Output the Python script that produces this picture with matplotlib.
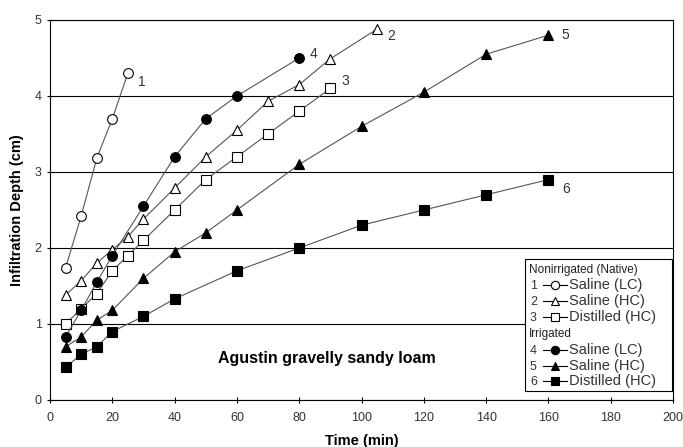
import matplotlib
matplotlib.use('Agg')
import matplotlib.pyplot as plt
from matplotlib.lines import Line2D
from matplotlib.patches import Rectangle

plt.rcParams['font.family'] = ['Liberation Sans', 'DejaVu Sans']

# 1-3: nonirrigated (native), 4-6: irrigated
time1 = [5, 10, 15, 20, 25]
depth1 = [1.74, 2.42, 3.18, 3.70, 4.30]

time2 = [5, 10, 15, 20, 25, 30, 40, 50, 60, 70, 80, 90, 105]
depth2 = [1.38, 1.57, 1.80, 1.98, 2.15, 2.38, 2.79, 3.20, 3.55, 3.93, 4.15, 4.49, 4.88]

time3 = [5, 10, 15, 20, 25, 30, 40, 50, 60, 70, 80, 90]
depth3 = [1.00, 1.20, 1.40, 1.70, 1.90, 2.10, 2.50, 2.90, 3.20, 3.50, 3.80, 4.10]

time4 = [5, 10, 15, 20, 30, 40, 50, 60, 80]
depth4 = [0.83, 1.18, 1.55, 1.90, 2.55, 3.20, 3.70, 4.00, 4.50]

time5 = [5, 10, 15, 20, 30, 40, 50, 60, 80, 100, 120, 140, 160]
depth5 = [0.70, 0.83, 1.05, 1.18, 1.60, 1.95, 2.20, 2.50, 3.10, 3.60, 4.05, 4.55, 4.80]

time6 = [5, 10, 15, 20, 30, 40, 60, 80, 100, 120, 140, 160]
depth6 = [0.43, 0.60, 0.70, 0.90, 1.10, 1.33, 1.70, 2.00, 2.30, 2.50, 2.70, 2.90]

series_labels = ['Saline (LC)', 'Saline (HC)', 'Distilled (HC)',
                 'Saline (LC)', 'Saline (HC)', 'Distilled (HC)']

W, H = 683, 447
fig = plt.figure(figsize=(W / 100, H / 100), dpi=100)
ax = fig.add_axes([50 / W, 1 - 400 / H, 623 / W, 380 / H])

# marker, filled, label offset (points) of the curve number
styles = [
    ('o', False, (10, -6)),
    ('^', False, (10, -5)),
    ('s', False, (11, 5)),
    ('o', True, (10, 3)),
    ('^', True, (12, 0)),
    ('s', True, (13, -7)),
]
data = [(time1, depth1), (time2, depth2), (time3, depth3),
        (time4, depth4), (time5, depth5), (time6, depth6)]

line_col = '#555555'
for i, ((t, d), (mk, filled, off)) in enumerate(zip(data, styles)):
    ms = 7 if mk != 's' else 6.5
    ax.plot(t, d, color=line_col, lw=0.8, marker=mk, ms=ms,
            mfc='black' if filled else 'white', mec='black', mew=0.8, zorder=3)
    ax.annotate(str(i + 1), (t[-1], d[-1]), xytext=off, textcoords='offset points',
                ha='center', va='center', fontsize=10, color='#333333')

ax.set_xlim(0, 200)
ax.set_ylim(0, 5)
ax.set_xticks(range(0, 201, 20))
ax.set_yticks(range(0, 6))
ax.yaxis.grid(True, color='black', lw=0.8)
ax.set_axisbelow(True)
ax.tick_params(direction='inout', length=5, width=0.8, labelsize=9, colors='black',
               labelcolor='#333333')
ax.tick_params(axis='x', pad=6)
for s in ax.spines.values():
    s.set_linewidth(0.8)

ax.set_xlabel('Time (min)', fontsize=10.5, fontweight='bold', labelpad=7)
ax.set_ylabel('Infiltration Depth (cm)', fontsize=10.5, fontweight='bold', labelpad=8)

ax.text(89, 0.55, 'Agustin gravelly sandy loam', ha='center', va='center',
        fontsize=11.5, fontweight='bold')

# legend drawn by hand (numbers sit in front of the samples)
def fx(px):
    return px / W

def fy(py):
    return 1 - py / H

fig.patches.append(Rectangle((fx(525), fy(391)), fx(672) - fx(525), fy(259) - fy(391),
                             transform=fig.transFigure, facecolor='white',
                             edgecolor='black', lw=0.8, zorder=5))
rows = [270, 285, 301, 317, 334, 350, 366, 381]
fig.text(fx(529), fy(rows[0]), 'Nonirrigated (Native)', fontsize=8.5, va='center',
         color='#222222', zorder=6)
fig.text(fx(529), fy(rows[4]), 'Irrigated', fontsize=8.5, va='center',
         color='#222222', zorder=6)
entry_rows = rows[1:4] + rows[5:8]
for i, (py, (mk, filled, _)) in enumerate(zip(entry_rows, styles)):
    fig.text(fx(530), fy(py + 1), str(i + 1), fontsize=9, va='center', color='#333333', zorder=6)
    fig.lines.append(Line2D([fx(543), fx(567)], [fy(py), fy(py)], transform=fig.transFigure,
                            color='black', lw=0.8, zorder=6))
    fig.lines.append(Line2D([fx(555)], [fy(py)], transform=fig.transFigure, marker=mk,
                            ms=6 if mk != 's' else 5.5, mfc='black' if filled else 'white',
                            mec='black', mew=0.8, zorder=7))
    fig.text(fx(569), fy(py), series_labels[i], fontsize=10.5, va='center', color='#333333', zorder=6)

fig.savefig('out.png', dpi=100)
